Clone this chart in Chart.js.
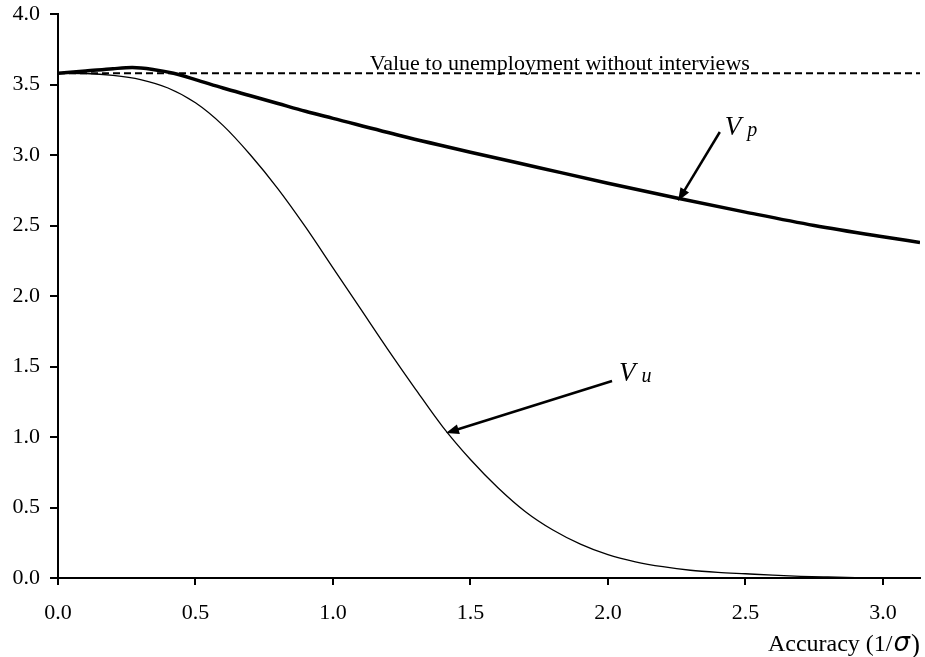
<!DOCTYPE html>
<html lang="en">
<head>
    <meta charset="UTF-8">
    <title>Value to unemployment vs accuracy</title>
    <script src="https://cdn.jsdelivr.net/npm/chart.js"></script>
    <style>
        body { margin: 0; background: #fff; }
        #wrap { width: 925px; height: 657px; }
    </style>
</head>
<body>
    <div id="wrap"><canvas id="accChart"></canvas></div>

    <script>
        // accuracy (1/sigma) values and curves
        const xVp = [0, 0.1, 0.2, 0.27, 0.35, 0.42, 0.5, 0.6, 0.7, 0.8, 0.9, 1.0, 1.25, 1.5, 1.75, 2.0, 2.25, 2.5, 2.75, 3.0, 3.135];
        const vp  = [3.58, 3.595, 3.612, 3.62, 3.605, 3.58, 3.535, 3.475, 3.42, 3.365, 3.31, 3.26, 3.135, 3.02, 2.91, 2.80, 2.695, 2.595, 2.50, 2.42, 2.38];

        const xVu = [0, 0.1, 0.2, 0.3, 0.4, 0.5, 0.6, 0.7, 0.8, 0.9, 1.0, 1.1, 1.2, 1.3, 1.4, 1.5, 1.6, 1.7, 1.8, 1.9, 2.0, 2.1, 2.2, 2.3, 2.4, 2.5, 2.6, 2.7, 2.8, 2.9, 3.0, 3.135];
        const vu  = [3.58, 3.578, 3.565, 3.535, 3.475, 3.37, 3.21, 3.00, 2.76, 2.49, 2.20, 1.91, 1.62, 1.34, 1.07, 0.84, 0.64, 0.47, 0.34, 0.24, 0.165, 0.115, 0.08, 0.055, 0.04, 0.03, 0.02, 0.012, 0.007, 0.003, 0.001, 0];

        const noInterview = 3.58;   // value to unemployment without interviews
        const xMax = 3.135;
        const yTicks = [0, 0.5, 1.0, 1.5, 2.0, 2.5, 3.0, 3.5, 4.0];

        const serif = "'Liberation Serif', 'Times New Roman', serif";

        const pts = (xs, ys) => xs.map((x, i) => ({ x: x, y: ys[i] }));

        // text and arrows, placed in data units
        const notes = {
            flatLabel: { x: 1.825, y: 3.605, text: 'Value to unemployment without interviews' },
            vpArrow: { from: [2.407, 3.163], to: [2.255, 2.674], label: [2.425, 3.142], sub: 'p' },
            vuArrow: { from: [2.015, 1.397], to: [1.411, 1.028], label: [2.04, 1.397], sub: 'u' }
        };

        function arrow(c, x1, y1, x2, y2) {
            const a = Math.atan2(y2 - y1, x2 - x1);
            const len = 13, w = 5;
            c.beginPath();
            c.moveTo(x1, y1);
            c.lineTo(x2 - Math.cos(a) * (len - 2), y2 - Math.sin(a) * (len - 2));
            c.stroke();
            c.beginPath();
            c.moveTo(x2, y2);
            c.lineTo(x2 - Math.cos(a) * len - Math.sin(a) * w, y2 - Math.sin(a) * len + Math.cos(a) * w);
            c.lineTo(x2 - Math.cos(a) * len + Math.sin(a) * w, y2 - Math.sin(a) * len - Math.cos(a) * w);
            c.closePath();
            c.fill();
        }

        const notePlugin = {
            id: 'notes',
            afterDraw(chart) {
                const c = chart.ctx, sx = chart.scales.x, sy = chart.scales.y;
                const px = v => sx.getPixelForValue(v), py = v => sy.getPixelForValue(v);
                c.save();
                c.fillStyle = '#000';
                c.strokeStyle = '#000';

                c.font = '22px ' + serif;
                c.textAlign = 'center';
                c.textBaseline = 'alphabetic';
                c.fillText(notes.flatLabel.text, px(notes.flatLabel.x), py(notes.flatLabel.y));

                c.lineWidth = 2.5;
                [notes.vpArrow, notes.vuArrow].forEach(n => {
                    arrow(c, px(n.from[0]), py(n.from[1]), px(n.to[0]), py(n.to[1]));
                    const lx = px(n.label[0]), ly = py(n.label[1]);
                    c.textAlign = 'left';
                    c.font = 'italic 27px ' + serif;
                    c.fillText('V', lx, ly);
                    const w = c.measureText('V').width;
                    c.font = 'italic 20px ' + serif;
                    c.fillText(n.sub, lx + w + 6, ly + 1);
                });

                // x axis title
                const right = chart.chartArea.right;
                const base = chart.chartArea.bottom + 73;
                c.textAlign = 'right';
                c.font = '27px ' + serif;
                c.fillText(')', right, base + 2);
                let xr = right - c.measureText(')').width - 1;
                c.font = 'italic 26px "DejaVu Sans", sans-serif';
                c.fillText('σ', xr, base);
                xr -= c.measureText('σ').width + 1;
                c.font = '24px ' + serif;
                c.fillText('Accuracy (1/', xr, base);
                c.restore();
            }
        };

        const tickFont = { family: serif, size: 22 };

        new Chart(document.getElementById('accChart'), {
            type: 'scatter',
            data: {
                datasets: [
                    {
                        label: 'Vp',
                        data: pts(xVp, vp),
                        showLine: true,
                        borderColor: '#000',
                        borderWidth: 3.5,
                        pointRadius: 0,
                        cubicInterpolationMode: 'monotone'
                    },
                    {
                        label: 'Vu',
                        data: pts(xVu, vu),
                        showLine: true,
                        borderColor: '#000',
                        borderWidth: 1.3,
                        pointRadius: 0,
                        cubicInterpolationMode: 'monotone'
                    },
                    {
                        label: 'No interviews',
                        data: [{ x: 0, y: noInterview }, { x: xMax, y: noInterview }],
                        showLine: true,
                        borderColor: '#000',
                        borderWidth: 2,
                        borderDash: [7, 4],
                        pointRadius: 0
                    }
                ]
            },
            options: {
                responsive: true,
                maintainAspectRatio: false,
                animation: false,
                layout: { padding: { top: 14, right: 5, left: 0, bottom: 0 } },
                plugins: {
                    legend: { display: false },
                    tooltip: { enabled: false }
                },
                scales: {
                    x: {
                        type: 'linear',
                        min: 0,
                        max: xMax,
                        ticks: {
                            stepSize: 0.5,
                            includeBounds: false,
                            color: '#000',
                            font: tickFont,
                            padding: 15,
                            maxRotation: 0,
                            callback: v => v.toFixed(1)
                        },
                        grid: { drawOnChartArea: false, tickLength: 7, color: '#000', lineWidth: 2 },
                        border: { color: '#000', width: 2 },
                        afterFit(s) { s.height = 79; s.paddingLeft = 0; s.paddingRight = 0; }
                    },
                    y: {
                        min: 0,
                        max: 4,
                        afterBuildTicks(s) { s.ticks = yTicks.map(v => ({ value: v })); },
                        ticks: {
                            color: '#000',
                            font: tickFont,
                            padding: 10,
                            callback: v => v.toFixed(1)
                        },
                        grid: { drawOnChartArea: false, tickLength: 8, color: '#000', lineWidth: 2 },
                        border: { color: '#000', width: 2 },
                        afterFit(s) { s.width = 58; s.paddingTop = 0; s.paddingBottom = 0; }
                    }
                }
            },
            plugins: [notePlugin]
        });
    </script>
</body>
</html>
